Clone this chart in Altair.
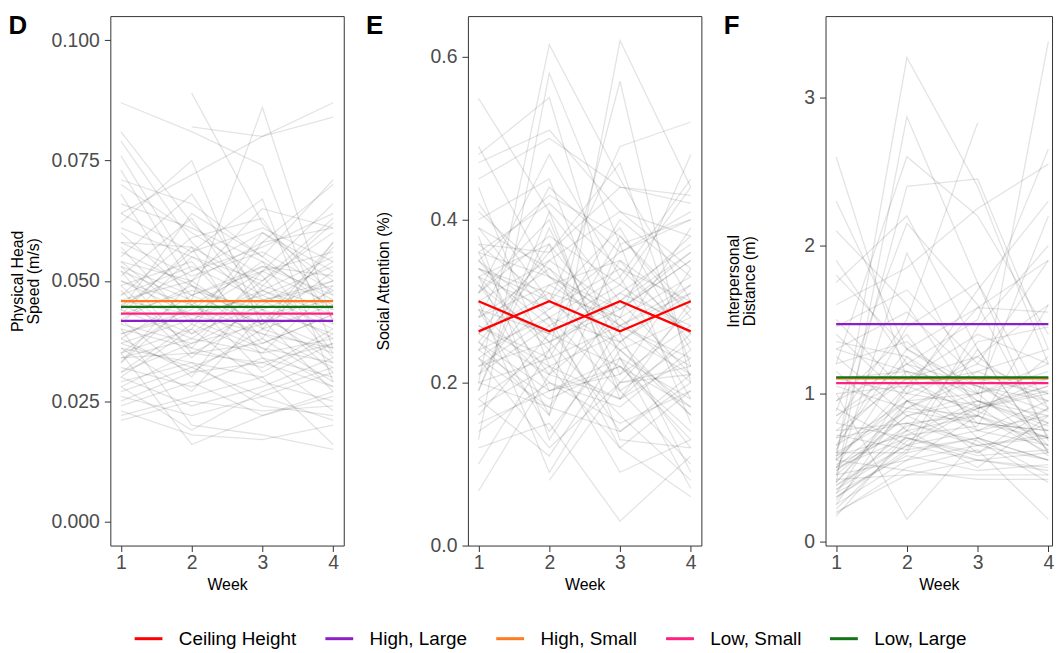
import altair as alt
import pandas as pd

WEEKS = [1, 2, 3, 4]

# Panel D: physical head speed (m/s), one entry per participant
D_W1 = [0.087, None, None, 0.064, 0.052, 0.081, 0.079, 0.076, 0.073, 0.071,
        0.070, 0.062, 0.064, 0.060, 0.058, 0.057, 0.055, 0.054, 0.053, 0.051,
        0.050, 0.049, 0.048, 0.047, 0.046, 0.045, 0.044, 0.043, 0.042, 0.041,
        0.040, 0.039, 0.038, 0.037, 0.036, 0.035, 0.034, 0.033, 0.032, 0.031,
        0.030, 0.029, 0.028, 0.027, 0.026, 0.024, 0.023, 0.022, 0.021, 0.035,
        0.040, 0.033, 0.045, 0.038, 0.052, 0.068, 0.044, 0.030, 0.056, 0.043,
        0.047, 0.039, 0.053, 0.034, 0.058, 0.042, 0.031, 0.049, 0.037, 0.061,
        0.028, 0.044, 0.035, 0.050, 0.025, 0.066, 0.041, 0.046, 0.036, 0.054]
D_W2 = [0.081, 0.089, 0.082, 0.072, 0.046, 0.062, 0.058, 0.052, 0.049, 0.066,
        0.060, 0.075, 0.056, 0.047, 0.057, 0.041, 0.068, 0.050, 0.039, 0.063,
        0.045, 0.054, 0.034, 0.059, 0.043, 0.052, 0.038, 0.048, 0.030, 0.055,
        0.036, 0.044, 0.031, 0.042, 0.027, 0.040, 0.035, 0.046, 0.028, 0.037,
        0.024, 0.033, 0.019, 0.032, 0.022, 0.029, 0.018, 0.026, 0.025, 0.016,
        0.020, 0.050, 0.039, 0.047, 0.035, 0.045, 0.064, 0.040, 0.049, 0.057,
        0.053, 0.043, 0.047, 0.038, 0.051, 0.049, 0.041, 0.036, 0.032, 0.055,
        0.035, 0.056, 0.045, 0.043, 0.031, 0.061, 0.037, 0.050, 0.033, 0.042]
D_W3 = [0.074, 0.062, 0.080, 0.080, 0.086, 0.048, 0.044, 0.060, 0.041, 0.055,
        0.051, 0.040, 0.067, 0.052, 0.049, 0.060, 0.046, 0.058, 0.045, 0.042,
        0.053, 0.038, 0.046, 0.063, 0.039, 0.057, 0.035, 0.044, 0.049, 0.047,
        0.032, 0.054, 0.040, 0.036, 0.043, 0.029, 0.037, 0.031, 0.034, 0.041,
        0.028, 0.024, 0.027, 0.038, 0.026, 0.022, 0.017, 0.030, 0.023, 0.022,
        0.018, 0.065, 0.050, 0.053, 0.033, 0.036, 0.055, 0.058, 0.043, 0.034,
        0.046, 0.052, 0.041, 0.048, 0.056, 0.037, 0.035, 0.052, 0.026, 0.050,
        0.042, 0.061, 0.039, 0.047, 0.033, 0.054, 0.044, 0.040, 0.030, 0.048]
D_W4 = [0.036, 0.047, 0.084, 0.087, 0.041, 0.055, 0.039, 0.050, 0.058, 0.071,
        0.034, 0.045, 0.029, 0.066, 0.062, 0.052, 0.038, 0.061, 0.054, 0.027,
        0.047, 0.058, 0.050, 0.042, 0.036, 0.064, 0.049, 0.031, 0.044, 0.053,
        0.040, 0.035, 0.057, 0.033, 0.046, 0.025, 0.043, 0.039, 0.030, 0.048,
        0.034, 0.022, 0.032, 0.029, 0.021, 0.027, 0.020, 0.016, 0.024, 0.026,
        0.015, 0.061, 0.063, 0.051, 0.037, 0.028, 0.044, 0.070, 0.033, 0.023,
        0.049, 0.045, 0.052, 0.041, 0.048, 0.043, 0.038, 0.056, 0.031, 0.060,
        0.036, 0.054, 0.032, 0.040, 0.028, 0.046, 0.050, 0.035, 0.037, 0.043]

# Panel E: social attention (%)
E_W1 = [0.549, 0.20, 0.13, 0.48, 0.25, 0.33, 0.42, 0.49, 0.47, 0.45,
        0.44, 0.40, 0.39, 0.37, 0.36, 0.35, 0.34, 0.33, 0.32, 0.31,
        0.30, 0.29, 0.28, 0.27, 0.26, 0.25, 0.24, 0.23, 0.22, 0.21,
        0.20, 0.19, 0.18, 0.17, 0.16, 0.14, 0.12, 0.10, 0.067, 0.30,
        0.35, 0.28, 0.38, 0.26, 0.31, 0.23, 0.34, 0.29, 0.21, 0.36,
        0.19, 0.33, None, 0.24, 0.32, 0.34, 0.27, 0.36, 0.22, 0.30,
        0.25, 0.41, 0.18, 0.29, 0.33, 0.23, 0.37, 0.20, 0.31, 0.26,
        0.35, 0.15, 0.28, 0.39, 0.24]
E_W2 = [0.41, 0.615, 0.58, 0.55, 0.16, 0.24, 0.30, 0.33, 0.51, 0.50,
        0.22, 0.45, 0.28, 0.36, 0.19, 0.43, 0.27, 0.37, 0.21, 0.40,
        0.26, 0.14, 0.34, 0.23, 0.31, 0.35, 0.18, 0.29, 0.25, 0.32,
        0.17, 0.39, 0.11, 0.22, 0.26, 0.20, 0.15, 0.24, 0.21, 0.09,
        0.28, 0.44, 0.13, 0.36, 0.48, 0.12, 0.30, 0.20, 0.27, 0.33,
        0.41, 0.16, 0.08, 0.37, 0.25, 0.31, 0.22, 0.42, 0.28, 0.35,
        0.19, 0.33, 0.24, 0.26, 0.29, 0.17, 0.30, 0.23, 0.38, 0.21,
        0.25, 0.19, 0.32, 0.34, 0.28]
E_W3 = [0.30, 0.45, 0.37, 0.26, 0.62, 0.57, 0.49, 0.28, 0.41, 0.44,
        0.18, 0.23, 0.33, 0.44, 0.21, 0.38, 0.14, 0.26, 0.35, 0.19,
        0.31, 0.25, 0.24, 0.38, 0.20, 0.29, 0.22, 0.34, 0.16, 0.27,
        0.30, 0.21, 0.24, 0.12, 0.40, 0.17, 0.03, 0.09, 0.28, 0.23,
        0.12, 0.36, 0.27, 0.47, 0.33, 0.20, 0.39, 0.15, 0.32, 0.25,
        0.18, 0.37, 0.20, 0.13, 0.29, 0.28, 0.26, 0.34, 0.19, 0.41,
        0.23, 0.29, 0.31, 0.22, 0.36, 0.14, 0.24, 0.27, 0.32, 0.18,
        0.30, 0.22, 0.35, 0.27, 0.25]
E_W4 = [0.36, 0.30, 0.15, 0.09, 0.44, 0.20, 0.52, 0.48, 0.38, 0.43,
        0.26, 0.12, 0.45, 0.42, 0.34, 0.29, 0.21, 0.39, 0.25, 0.10,
        0.37, 0.32, 0.17, 0.28, 0.22, 0.35, 0.14, 0.26, 0.08, 0.31,
        0.21, 0.27, 0.16, 0.19, 0.33, 0.24, 0.11, 0.13, 0.20, 0.07,
        0.06, 0.41, 0.23, 0.22, 0.18, 0.29, 0.24, 0.19, 0.44, 0.16,
        0.30, 0.40, 0.21, 0.12, 0.36, 0.33, 0.21, 0.30, 0.25, 0.34,
        0.18, 0.35, 0.27, 0.13, 0.40, 0.20, 0.28, 0.32, 0.26, 0.23,
        0.38, 0.17, 0.29, 0.22, 0.31]

# Panel F: interpersonal distance (m)
F_W1 = [2.60, 0.55, 0.40, 1.20, 0.80, 0.60, 0.50, 2.30, 2.10, 1.90,
        1.75, 1.60, 1.50, 1.45, 1.40, 1.35, 1.30, 1.25, 1.20, 1.15,
        1.10, 1.05, 1.00, 0.95, 0.90, 0.85, 0.80, 0.75, 0.70, 0.65,
        0.60, 0.58, 0.55, 0.52, 0.50, 0.48, 0.45, 0.42, 0.40, 0.38,
        0.35, 0.32, 0.30, 0.28, 0.25, 0.22, 0.19, 0.17, 1.00, 0.62,
        0.45, 0.72, 0.88, 1.80, 0.55, 0.45, 0.65, 0.35, 0.55, 0.75,
        0.30, 0.95, 0.50, 0.40, 0.85, 0.25, 0.60, 1.10, 0.38, 0.70,
        0.48, 1.30, 0.33, 0.58, 0.20]
F_W2 = [1.10, 3.27, 2.87, 2.60, 1.50, 2.40, 0.90, 1.30, 1.60, 1.20,
        2.20, 1.85, 1.00, 1.70, 0.95, 1.25, 1.55, 0.85, 1.35, 0.75,
        1.15, 0.90, 1.05, 1.40, 0.65, 1.20, 0.70, 1.10, 0.80, 1.30,
        0.60, 0.95, 1.00, 0.75, 1.25, 0.85, 0.55, 0.45, 0.90, 0.70,
        0.65, 1.05, 0.60, 0.80, 0.95, 0.68, 0.50, 0.72, 0.15, 1.45,
        1.95, 0.62, 2.15, 1.30, 0.48, 0.85, 0.95, 0.75, 1.05, 0.80,
        0.62, 1.20, 0.70, 0.95, 1.10, 0.55, 0.88, 1.00, 0.65, 1.15,
        0.78, 1.15, 0.58, 0.72, 0.45]
F_W3 = [0.85, 2.40, 1.75, 2.20, 2.83, 2.45, 0.85, 1.05, 0.90, 1.50,
        1.30, 2.25, 1.70, 1.20, 1.25, 0.80, 1.10, 1.00, 0.95, 1.35,
        0.70, 1.15, 1.58, 0.75, 0.90, 1.05, 0.60, 1.40, 0.85, 1.00,
        0.70, 0.80, 1.20, 0.50, 0.95, 0.65, 0.85, 0.45, 1.10, 0.55,
        0.75, 0.88, 1.30, 0.68, 0.60, 0.92, 0.62, 0.78, 0.70, 1.75,
        1.00, 1.45, 1.60, 1.58, 0.42, 0.95, 0.75, 0.85, 1.15, 0.65,
        0.70, 0.90, 0.58, 1.00, 1.25, 0.65, 0.80, 0.92, 0.55, 1.05,
        0.90, 1.00, 0.48, 0.95, 0.55]
F_W4 = [0.70, 1.20, 0.90, 1.40, None, 1.30, 3.38, 0.95, 1.10, 2.65,
        0.60, 2.55, 2.30, 1.90, 1.60, 0.75, 1.00, 2.20, 0.85, 1.45,
        0.55, 1.30, 1.55, 0.65, 1.05, 0.80, 0.90, 1.20, 0.60, 1.10,
        0.45, 0.70, 1.00, 0.85, 0.75, 0.55, 1.25, 0.45, 0.65, 0.50,
        0.95, 0.70, 0.60, 0.40, 0.80, 0.58, 0.15, 1.60, 0.90, 0.68,
        0.62, 2.00, 0.70, 1.90, 0.42, 0.80, 0.85, 0.65, 0.95, 0.72,
        0.55, 1.00, 0.62, 1.15, 0.90, 0.70, 0.75, 1.05, 0.48, 0.88,
        1.02, 1.20, 0.52, 0.78, 0.60]

CONDITIONS = ["High, Large", "High, Small", "Low, Small", "Low, Large"]
D_COND = [0.0417, 0.0458, 0.0432, 0.0446]
F_COND = [1.469, 1.103, 1.071, 1.109]

E_CEIL_A = [0.300, 0.263, 0.300, 0.263]
E_CEIL_B = [0.263, 0.300, 0.263, 0.300]

LEGEND_DOMAIN = ["Ceiling Height", "High, Large", "High, Small", "Low, Small", "Low, Large"]
LEGEND_COLORS = ["#ff0000", "#8c1ec8", "#ff7a1e", "#ff2080", "#147314"]

FONT = "Liberation Sans"
H = 533


def long_df(w1, w2, w3, w4):
    rows = []
    for i, vals in enumerate(zip(w1, w2, w3, w4)):
        for wk, v in zip(WEEKS, vals):
            if v is not None:
                rows.append({"id": i, "week": wk, "value": v})
    return pd.DataFrame(rows)


def color_enc():
    return alt.Color("cond:N",
                     scale=alt.Scale(domain=LEGEND_DOMAIN, range=LEGEND_COLORS),
                     legend=alt.Legend(title=None))


def panel(letter, grey, extra_layers, ytitle, title_x, ydomain, yticks, yfmt, width, xmax):
    xs = alt.Scale(domain=[0.85, xmax], nice=False, zero=False)
    ys = alt.Scale(domain=ydomain, nice=False, zero=False)
    xenc = alt.X("week:Q", scale=xs,
                 axis=alt.Axis(values=WEEKS, format="d", title="Week",
                               labelPadding=2, titlePadding=5))
    yenc = alt.Y("value:Q", scale=ys,
                 axis=alt.Axis(values=yticks, format=yfmt, title=ytitle,
                               titleX=title_x, titleY=H / 2, titleAngle=270,
                               titleAlign="center", titleBaseline="middle",
                               labelPadding=5))
    base = alt.Chart(grey).mark_line(color="black", opacity=0.11, strokeWidth=1.3).encode(
        x=xenc, y=yenc, detail="id:N")
    layers = [base]
    for df in extra_layers:
        layers.append(alt.Chart(df).mark_line(strokeWidth=2.3).encode(
            x=alt.X("week:Q", scale=xs), y=alt.Y("value:Q", scale=ys),
            color=color_enc(), detail="line:N"))
    lab = alt.Chart(pd.DataFrame({"t": [letter]})).mark_text(
        align="left", baseline="top", fontSize=26, fontWeight="bold", font=FONT,
        color="black").encode(x=alt.value(-102.5), y=alt.value(-3), text="t:N")
    layers.append(lab)
    return alt.layer(*layers).properties(width=width, height=H)


def cond_layers(values):
    out = []
    for c, v in zip(CONDITIONS, values):
        out.append(pd.DataFrame({"week": [1, 4], "value": [v, v], "cond": [c, c], "line": [c, c]}))
    return out


e_red = pd.DataFrame({
    "week": WEEKS + WEEKS,
    "value": E_CEIL_A + E_CEIL_B,
    "cond": ["Ceiling Height"] * 8,
    "line": ["a"] * 4 + ["b"] * 4,
})

pD = panel("D", long_df(D_W1, D_W2, D_W3, D_W4), cond_layers(D_COND),
           ["Physical Head", "Speed (m/s)"], -93, [-0.005, 0.105],
           [0, 0.025, 0.05, 0.075, 0.1], ".3f", 235, 4.15)
pE = panel("E", long_df(E_W1, E_W2, E_W3, E_W4), [e_red],
           "Social Attention (%)", -85, [0, 0.65], [0, 0.2, 0.4, 0.6], ".1f", 235, 4.15)
pF = panel("F", long_df(F_W1, F_W2, F_W3, F_W4), cond_layers(F_COND),
           ["Interpersonal", "Distance (m)"], -93, [-0.027, 3.55], [0, 1, 2, 3], "d",
           228, 0.85 + 228 / (235 / 3.3))

chart = alt.hconcat(pD, pE, pF, spacing=125, bounds="flush").resolve_scale(
    x="independent", y="independent", color="shared"
).resolve_legend(color="shared").properties(
    padding={"left": 0, "top": 2, "right": 0, "bottom": 0}
).configure_view(
    stroke="#333333", strokeWidth=1
).configure_axis(
    labelFont=FONT, labelFontSize=19.5, labelColor="#4d4d4d",
    titleFont=FONT, titleFontSize=16, titleFontWeight="normal", titleColor="black",
    titleLineHeight=16, tickColor="#333333", tickSize=6, domain=False, grid=False
).configure_legend(
    orient="none", legendX=23, legendY=611, direction="horizontal",
    symbolType="stroke", symbolSize=784, symbolStrokeWidth=3,
    labelFont=FONT, labelFontSize=19, labelColor="black",
    labelOffset=15, columnPadding=22
)

chart.save("out.html", embed_options={"renderer": "svg", "actions": False})
